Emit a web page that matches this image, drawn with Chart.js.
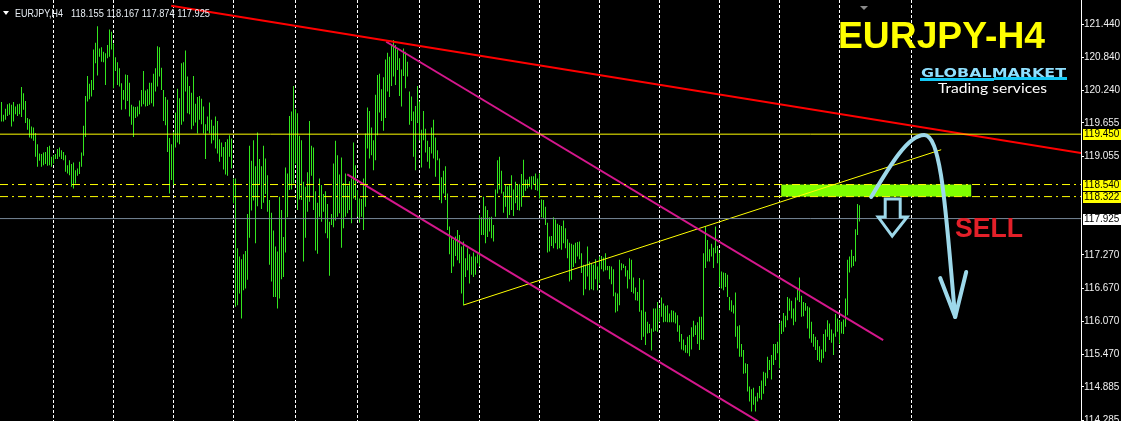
<!DOCTYPE html>
<html>
<head>
<meta charset="utf-8">
<script src="https://cdn.jsdelivr.net/npm/chart.js@4.4.1/dist/chart.umd.min.js"></script>
<style>
  html, body { margin: 0; padding: 0; background: #000; overflow: hidden; }
  canvas { display: block; }
</style>
</head>
<body>
<canvas id="myChart" width="1121" height="421"></canvas>
<script>
// EURJPY H4 bars (high / low per bar)
var highs = [
  120.03,119.80,119.91,119.99,120.01,119.98,120.03,119.95,119.99,120.00,
  120.30,120.19,120.05,119.74,119.72,119.59,119.57,119.47,119.27,119.10,
  119.09,119.12,119.13,119.22,119.24,119.04,119.07,119.09,119.18,119.21,
  119.16,119.13,119.07,118.89,118.98,118.91,118.94,118.80,118.83,118.95,
  119.12,119.60,120.14,120.50,120.36,120.43,120.98,121.10,121.40,121.00,
  121.02,120.94,120.91,121.06,121.34,121.30,121.09,120.84,120.75,120.64,
  120.37,120.25,120.53,120.52,120.38,119.98,119.95,119.94,119.95,120.06,
  120.25,120.59,120.24,120.26,120.38,120.38,120.54,120.64,121.04,121.02,
  120.65,120.25,120.12,120.07,119.38,119.27,119.49,119.84,120.27,120.10,
  120.73,120.75,120.96,120.49,120.32,120.20,120.50,120.00,120.12,120.14,
  120.09,119.95,119.63,119.77,120.02,119.71,119.60,119.77,119.69,119.36,
  119.30,119.22,119.31,119.36,119.43,119.37,118.65,118.65,117.39,117.24,
  117.19,117.28,117.34,118.01,119.24,118.97,119.34,118.87,119.48,119.00,
  118.87,119.24,119.01,118.71,118.26,118.03,117.71,117.42,117.33,118.32,
  118.08,117.59,118.85,118.74,119.78,119.86,120.32,119.90,119.83,119.42,
  119.34,118.59,118.50,118.76,119.69,119.24,119.21,118.42,118.21,118.65,
  118.53,118.37,118.42,118.19,117.87,118.01,118.92,119.33,119.07,118.72,
  119.03,118.57,118.74,118.52,118.60,118.65,119.30,118.89,118.44,118.29,
  118.28,118.65,119.46,119.93,119.87,119.57,119.34,120.16,120.52,120.54,
  120.26,120.48,120.80,120.92,120.85,121.08,121.15,121.06,120.98,120.82,
  120.62,121.00,120.94,120.76,120.22,120.13,119.86,119.96,120.32,120.04,
  119.53,119.87,119.55,119.33,119.22,119.57,119.71,119.39,119.16,119.01,
  118.67,118.79,118.87,118.38,117.78,117.59,117.54,117.60,117.72,117.63,
  117.42,117.51,117.21,117.39,117.28,117.24,117.31,117.24,117.28,117.99,
  117.95,118.32,118.15,118.08,117.95,117.96,117.81,118.45,118.98,119.04,
  118.79,118.41,118.53,118.51,118.53,118.71,118.45,118.59,118.53,118.55,
  118.73,118.99,118.63,118.63,118.68,118.69,118.69,118.74,118.65,118.74,
  118.27,118.26,118.14,117.85,117.60,117.61,117.95,117.91,117.83,117.81,
  117.79,117.89,117.75,117.55,117.49,117.47,117.45,117.49,117.50,117.51,
  117.30,117.09,117.09,117.42,117.15,117.12,117.09,117.19,117.06,117.24,
  117.25,117.22,117.30,117.07,117.07,117.06,117.01,116.59,116.57,117.18,
  117.12,117.10,117.07,116.99,117.21,117.18,116.86,116.68,116.60,116.85,
  116.27,116.82,116.24,116.06,116.02,115.94,116.30,116.30,116.42,116.30,
  116.50,116.39,116.35,116.36,116.21,116.27,116.26,116.23,116.18,116.00,
  115.84,115.74,115.64,115.79,115.82,115.96,116.08,116.00,116.05,116.15,
  116.15,117.30,117.78,117.54,117.37,117.47,117.40,117.78,117.43,117.30,
  116.97,116.95,116.94,116.91,116.51,116.45,116.36,116.59,115.98,116.00,
  115.66,115.55,115.31,115.30,114.89,114.84,114.87,114.71,114.78,114.90,
  115.00,115.16,115.14,115.43,115.37,115.46,115.66,115.66,115.70,116.03,
  116.08,116.22,116.17,116.51,116.48,116.44,116.30,116.50,116.66,116.86,
  116.53,116.42,116.40,116.34,116.32,116.06,115.84,115.79,115.73,115.62,
  115.56,115.84,115.92,116.09,116.03,115.92,115.85,116.20,116.12,116.09,
  116.06,116.10,116.48,117.18,117.24,117.36,117.25,117.73,118.19,118.167
];
var lows = [
  119.68,119.68,119.71,119.78,119.80,119.59,119.68,119.81,119.78,119.81,
  119.76,119.89,119.65,119.53,119.39,119.37,119.33,119.04,118.86,118.97,
  118.86,118.89,118.91,118.88,118.89,118.86,118.92,119.00,119.00,119.04,
  119.00,118.98,118.77,118.74,118.71,118.50,118.47,118.56,118.70,118.73,
  118.86,119.06,119.40,120.04,120.08,120.13,120.25,120.73,120.51,120.85,
  120.76,120.75,120.34,120.82,120.85,120.98,120.28,120.59,120.34,120.31,
  119.89,120.07,119.90,120.05,119.77,119.62,119.40,119.74,119.77,119.81,
  119.95,119.99,119.95,119.96,119.98,120.01,119.95,120.22,120.31,120.49,
  120.25,119.69,119.61,119.13,118.38,118.62,118.53,119.21,119.30,119.27,
  119.62,119.68,120.22,119.83,119.81,119.54,119.60,119.66,119.46,119.71,
  119.63,119.46,119.00,119.51,119.46,119.28,119.34,119.19,119.10,118.95,
  119.04,118.81,118.72,118.70,119.04,118.83,118.20,116.33,116.36,116.57,
  116.12,116.63,116.66,116.82,117.58,118.07,118.25,117.48,118.15,118.53,
  118.10,118.21,118.37,118.05,117.09,116.79,116.51,116.51,116.30,116.48,
  116.83,116.87,117.31,117.95,118.44,118.45,118.56,118.92,118.08,118.27,
  118.26,117.15,117.58,118.05,118.23,118.70,118.08,117.35,117.29,117.96,
  117.87,118.05,117.66,117.57,116.89,117.81,117.77,117.89,117.96,118.02,
  117.40,117.75,117.96,118.02,118.08,117.84,118.29,118.26,117.96,117.85,
  117.96,117.72,118.14,119.19,119.01,119.07,118.80,118.98,119.43,119.84,
  119.69,119.51,119.74,120.22,120.12,120.32,120.49,120.34,120.61,120.14,
  119.95,120.50,120.28,120.49,119.62,119.69,119.04,118.80,119.65,119.34,
  118.85,119.34,119.12,118.95,118.83,119.10,119.01,118.68,118.98,118.26,
  118.20,118.38,118.26,117.72,117.28,116.94,117.06,117.25,117.17,117.12,
  116.57,116.36,116.87,116.99,116.75,116.91,116.87,116.91,117.12,117.06,
  117.63,117.63,117.48,117.59,117.69,117.57,117.51,117.96,118.38,118.45,
  118.38,118.03,118.14,117.93,117.99,118.08,117.97,118.20,118.08,118.07,
  118.14,118.32,118.43,118.47,118.50,118.45,118.53,118.44,118.43,118.29,
  117.95,117.93,117.81,117.31,117.33,117.43,117.39,117.48,117.37,117.39,
  117.36,117.48,117.39,117.21,116.79,116.82,117.05,117.12,117.24,117.19,
  116.94,116.54,116.65,116.88,116.63,116.65,116.63,116.83,116.63,116.76,
  117.01,116.97,116.99,116.99,116.83,116.74,116.52,116.23,116.25,116.36,
  116.99,117.03,116.88,116.66,116.83,116.60,116.57,116.45,116.44,116.24,
  115.73,115.79,115.64,115.85,115.86,115.54,115.88,115.90,115.88,116.06,
  116.15,116.05,116.06,116.05,116.05,116.05,116.05,116.03,115.88,115.70,
  115.56,115.54,115.50,115.49,115.44,115.56,115.79,115.82,115.66,115.55,
  115.74,115.73,117.03,117.15,117.15,117.24,117.03,117.30,117.12,116.69,
  116.66,116.63,116.69,116.51,116.27,116.24,116.21,115.79,115.58,115.43,
  115.43,115.12,115.13,114.80,114.62,114.44,114.56,114.44,114.62,114.68,
  114.65,114.76,114.90,115.04,115.19,115.02,115.28,115.37,115.49,115.22,
  115.84,115.88,115.96,116.09,116.26,116.12,116.00,116.06,116.45,116.42,
  116.15,116.16,116.26,115.94,115.76,115.68,115.61,115.55,115.37,115.34,
  115.32,115.40,115.52,115.79,115.73,115.68,115.46,115.79,115.88,115.66,
  115.85,115.84,115.97,116.18,116.95,117.04,117.07,117.15,117.63,117.874
];

// bar index of each weekly separator (dashed grid)
var weekStarts = [26, 56, 86, 116, 147, 178, 209, 239, 269, 299, 329, 359, 389, 419, 455];
// price scale labels
var priceTicks = [121.44, 120.84, 120.24, 119.655, 119.055, 117.27, 116.67, 116.07, 115.47, 114.885, 114.285];

// horizontal levels
var resistance = 119.45;
var zoneTop = 118.54;
var zoneBottom = 118.322;
var bidPrice = 117.925;

// trend lines as [bar, price] pairs
var redLine = [[84.85, 121.77], [539.75, 119.11]];
var channelUpper = [[192.35, 121.12], [440.85, 115.73]];
var channelLower = [[172.85, 118.725], [379.35, 114.24]];
var supportLine = [[231, 116.363], [469.85, 119.169]];

// sell zone box and drawn arrows, [bar, price]
var zoneBars = [389.85, 484.85];
var curveArrow = [[434.85, 118.315], [444.35, 118.893], [453.35, 119.435], [461.35, 119.435],
                  [470.35, 119.435], [472.35, 117.899], [476.85, 116.147]];
var curveHead = [[469.35, 116.851], [476.85, 116.147], [482.35, 116.96]];
var blockArrow = [[441.85, 118.279], [449.35, 118.279], [449.35, 117.953], [452.85, 117.953],
                  [445.35, 117.61], [438.35, 117.953], [441.85, 117.953]];

var xMin = -0.75, xMax = 539.75;
var yMin = 114.268, yMax = 121.874;

function toPts(arr) {
  return arr.map(function (p) { return {x: p[0], y: p[1]}; });
}
function flat(price) {
  return [{x: xMin, y: price}, {x: xMax, y: price}];
}
function lineSet(data, color, width, dash) {
  return {
    type: 'line', data: data, borderColor: color, borderWidth: width,
    borderDash: dash || [], pointRadius: 0, fill: false, tension: 0, order: 1
  };
}

function fitText(ctx, txt, x, y, w) {
  var m = ctx.measureText(txt).width;
  ctx.save();
  ctx.translate(x, y);
  ctx.scale(w / m, 1);
  ctx.fillText(txt, 0, 0);
  ctx.restore();
}

var decorations = {
  id: 'decorations',
  beforeDatasetsDraw: function (chart) {
    var ctx = chart.ctx, xs = chart.scales.x, ys = chart.scales.y;
    var x1 = xs.getPixelForValue(zoneBars[0]), x2 = xs.getPixelForValue(zoneBars[1]);
    var y1 = ys.getPixelForValue(zoneTop), y2 = ys.getPixelForValue(zoneBottom);
    ctx.save();
    ctx.fillStyle = '#7fff00';
    ctx.fillRect(x1, y1, x2 - x1, y2 - y1);
    ctx.restore();
  },
  afterDraw: function (chart) {
    var ctx = chart.ctx, xs = chart.scales.x, ys = chart.scales.y;
    function P(p) { return [xs.getPixelForValue(p[0]), ys.getPixelForValue(p[1])]; }
    ctx.save();

    // price tags on the right scale
    var tags = [[resistance, '#ffff00'], [zoneTop, '#ffff00'], [zoneBottom, '#ffff00'], [bidPrice, '#ffffff']];
    ctx.font = '10px "Liberation Sans", Arial, sans-serif';
    ctx.textBaseline = 'middle';
    tags.forEach(function (t) {
      var y = Math.round(ys.getPixelForValue(t[0]));
      ctx.fillStyle = t[1];
      ctx.fillRect(1083, y - 5, 38, 11);
      ctx.fillStyle = '#000';
      ctx.fillText(t[0].toFixed(3), 1084, y + 0.5);
    });

    // header
    ctx.fillStyle = '#ffffff';
    ctx.beginPath();
    ctx.moveTo(3, 11); ctx.lineTo(9, 11); ctx.lineTo(6, 15); ctx.closePath(); ctx.fill();
    ctx.fillStyle = '#e8eef4';
    ctx.font = '11px "Liberation Sans", Arial, sans-serif';
    ctx.textBaseline = 'alphabetic';
    fitText(ctx, 'EURJPY,H4', 15, 17, 48);
    fitText(ctx, '118.155 118.167 117.874 117.925', 71, 17, 139);

    // chart shift marker
    ctx.fillStyle = '#8a8a8a';
    ctx.beginPath();
    ctx.moveTo(860, 6); ctx.lineTo(868, 6); ctx.lineTo(864, 10); ctx.closePath(); ctx.fill();

    // title
    ctx.fillStyle = '#ffff00';
    ctx.font = 'bold 36px "Liberation Sans", Arial, sans-serif';
    fitText(ctx, 'EURJPY-H4', 838, 48, 207);

    // logo
    var g = ctx.createLinearGradient(0, 66, 0, 77);
    g.addColorStop(0, '#8fe0ff');
    g.addColorStop(0.5, '#2aa8e0');
    g.addColorStop(1, '#0b5f96');
    ctx.fillStyle = g;
    ctx.font = 'bold 12px "DejaVu Sans", sans-serif';
    fitText(ctx, 'GLOBALMARKET', 921, 76.5, 145);
    ctx.fillStyle = '#14c8f5';
    ctx.fillRect(920, 78, 74, 3);
    ctx.fillRect(994, 77, 73, 3);
    ctx.fillStyle = '#ffffff';
    ctx.font = '14px Lato, "Open Sans", sans-serif';
    fitText(ctx, 'Trading services', 938, 93, 109);

    // sell label
    ctx.fillStyle = '#e32029';
    ctx.font = 'bold 27px "Liberation Sans", Arial, sans-serif';
    fitText(ctx, 'SELL', 955, 237, 68);

    // drawn arrows
    ctx.strokeStyle = '#9dd8ea';
    ctx.lineCap = 'round';
    ctx.lineJoin = 'round';
    ctx.lineWidth = 4;
    var c = curveArrow.map(P);
    ctx.beginPath();
    ctx.moveTo(c[0][0], c[0][1]);
    ctx.bezierCurveTo(c[1][0], c[1][1], c[2][0], c[2][1], c[3][0], c[3][1]);
    ctx.bezierCurveTo(c[4][0], c[4][1], c[5][0], c[5][1], c[6][0], c[6][1]);
    ctx.stroke();
    var h = curveHead.map(P);
    ctx.beginPath();
    ctx.moveTo(h[0][0], h[0][1]); ctx.lineTo(h[1][0], h[1][1]); ctx.lineTo(h[2][0], h[2][1]);
    ctx.stroke();
    var b = blockArrow.map(P);
    ctx.lineWidth = 3;
    ctx.lineJoin = 'miter';
    ctx.beginPath();
    ctx.moveTo(b[0][0], b[0][1]);
    for (var i = 1; i < b.length; i++) ctx.lineTo(b[i][0], b[i][1]);
    ctx.closePath();
    ctx.stroke();

    ctx.restore();
  }
};

var barData = highs.map(function (hi, i) { return {x: i, y: [lows[i], hi]}; });

var ctx = document.getElementById('myChart').getContext('2d');
var myChart = new Chart(ctx, {
  type: 'bar',
  data: {
    datasets: [
      {type: 'bar', data: barData, backgroundColor: '#33e61e', borderWidth: 0,
       barThickness: 1, inflateAmount: 0, grouped: false, order: 10},
      lineSet(flat(resistance), '#ffff00', 1),
      lineSet(flat(zoneTop), '#ffff00', 1, [8, 4, 2, 4]),
      lineSet(flat(zoneBottom), '#ffff00', 1, [8, 4, 2, 4]),
      lineSet(flat(bidPrice), '#778899', 1),
      lineSet(toPts(redLine), '#ff0000', 2),
      lineSet(toPts(channelUpper), '#d4178c', 2),
      lineSet(toPts(channelLower), '#d4178c', 2),
      lineSet(toPts(supportLine), '#ffff00', 1)
    ]
  },
  options: {
    responsive: false,
    devicePixelRatio: 1,
    animation: false,
    events: [],
    layout: {padding: 0},
    plugins: {legend: {display: false}, tooltip: {enabled: false}},
    scales: {
      x: {
        type: 'linear', min: xMin, max: xMax, offset: false,
        grid: {color: '#ffffff', lineWidth: 1, offset: false, drawTicks: false},
        border: {display: false, dash: [3, 2]},
        ticks: {display: false},
        afterBuildTicks: function (s) {
          s.ticks = weekStarts.map(function (v) { return {value: v}; });
        },
        afterFit: function (s) { s.height = 0; s.paddingLeft = 0; s.paddingRight = 0; }
      },
      y: {
        type: 'linear', position: 'right', min: yMin, max: yMax,
        grid: {drawOnChartArea: false, drawTicks: true, tickLength: 3, tickColor: '#ffffff', color: '#ffffff'},
        border: {display: true, color: '#ffffff', width: 1},
        ticks: {
          color: '#f0f0f0', padding: 0, autoSkip: false,
          font: {family: '"Liberation Sans", Arial, sans-serif', size: 10},
          callback: function (v) { return Number(v).toFixed(3); }
        },
        afterBuildTicks: function (s) {
          s.ticks = priceTicks.map(function (v) { return {value: v}; });
        },
        afterFit: function (s) { s.width = 40; s.paddingTop = 0; s.paddingBottom = 0; }
      }
    }
  },
  plugins: [decorations]
});
</script>
</body>
</html>
